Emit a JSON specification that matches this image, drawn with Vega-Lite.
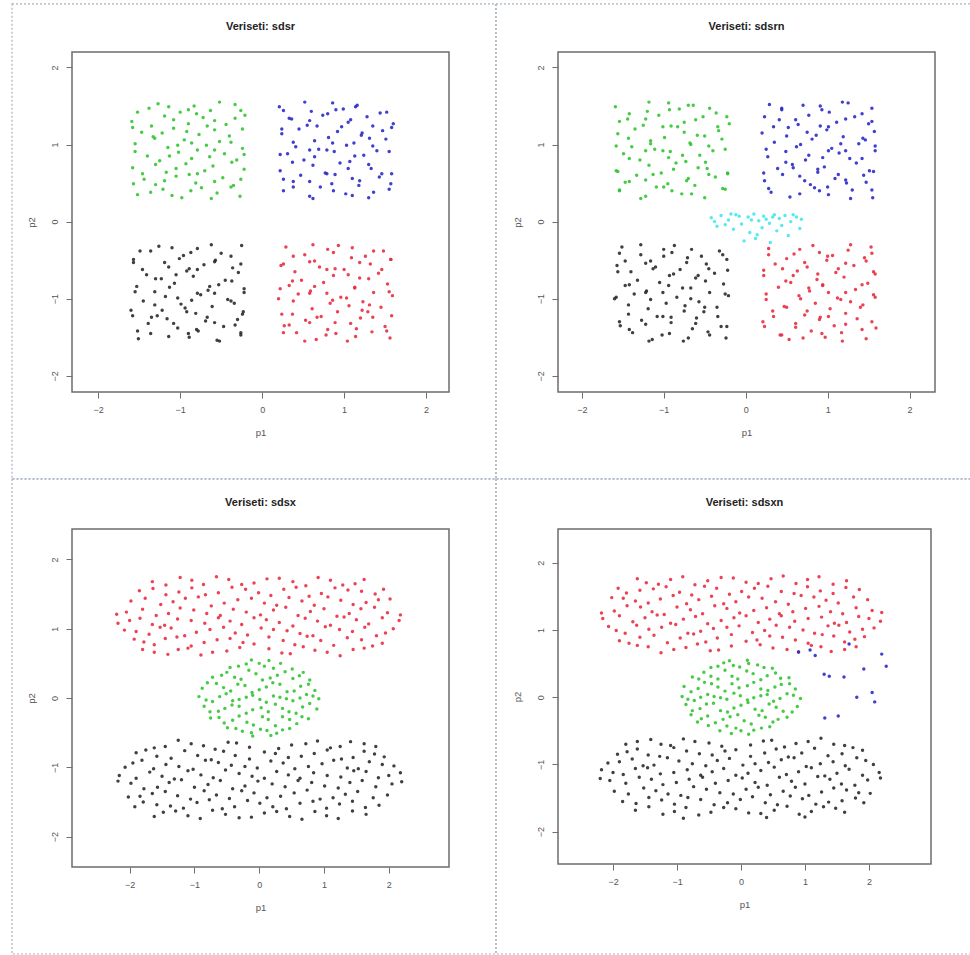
{
  "$schema": "https://vega.github.io/schema/vega-lite/v6.json",
  "background": "white",
  "padding": {"left": 10, "top": 2, "right": 0, "bottom": 0},
  "columns": 2,
  "bounds": "flush",
  "spacing": {"row": 137, "column": 109},
  "config": {
    "view": {"stroke": "#6c6c6c", "strokeWidth": 1.5},
    "font": "Liberation Sans",
    "title": {"font": "Liberation Sans", "fontSize": 11, "fontWeight": "bold", "color": "#222222", "anchor": "middle", "frame": "group", "baseline": "alphabetic"},
    "axis": {"domain": false, "grid": false, "tickColor": "#707070", "tickSize": 6, "tickWidth": 1, "labelColor": "#555555", "labelFont": "Liberation Sans", "labelFontSize": 9, "labelFlush": false, "titleFont": "Liberation Sans", "titleFontSize": 9.5, "titleFontWeight": "normal", "titleColor": "#555555"},
    "axisX": {"labelPadding": 7, "titlePadding": 13},
    "axisY": {"labelAngle": -90, "labelAlign": "center", "labelBaseline": "bottom", "labelPadding": 7, "titlePadding": 14},
    "circle": {"size": 12, "opacity": 0.88}
  },
  "datasets": {
    "sdsr": [
      {"k":3,"x":-1.52,"y":0.35},{"k":3,"x":-1.21,"y":0.42},{"k":3,"x":-0.98,"y":0.31},{"k":3,"x":-0.74,"y":0.44},{"k":3,"x":-0.55,"y":0.37},{"k":3,"x":-0.27,"y":0.33},
      {"k":3,"x":-1.44,"y":0.55},{"k":3,"x":-1.30,"y":0.48},{"k":3,"x":-1.05,"y":0.59},{"k":3,"x":-0.81,"y":0.50},{"k":3,"x":-0.48,"y":0.57},{"k":3,"x":-0.35,"y":0.47},
      {"k":3,"x":-1.58,"y":0.70},{"k":3,"x":-1.17,"y":0.64},{"k":3,"x":-0.93,"y":0.75},{"k":3,"x":-0.70,"y":0.66},{"k":3,"x":-0.60,"y":0.72},{"k":3,"x":-0.22,"y":0.68},
      {"k":3,"x":-1.40,"y":0.85},{"k":3,"x":-1.25,"y":0.79},{"k":3,"x":-1.02,"y":0.90},{"k":3,"x":-0.86,"y":0.82},{"k":3,"x":-0.46,"y":0.88},{"k":3,"x":-0.31,"y":0.80},
      {"k":3,"x":-1.55,"y":1.01},{"k":3,"x":-1.15,"y":0.96},{"k":3,"x":-0.95,"y":1.06},{"k":3,"x":-0.68,"y":0.99},{"k":3,"x":-0.52,"y":1.04},{"k":3,"x":-0.24,"y":0.95},
      {"k":3,"x":-1.47,"y":1.16},{"k":3,"x":-1.33,"y":1.10},{"k":3,"x":-1.08,"y":1.21},{"k":3,"x":-0.77,"y":1.13},{"k":3,"x":-0.58,"y":1.19},{"k":3,"x":-0.40,"y":1.11},
      {"k":3,"x":-1.59,"y":1.30},{"k":3,"x":-1.19,"y":1.37},{"k":3,"x":-0.90,"y":1.27},{"k":3,"x":-0.72,"y":1.35},{"k":3,"x":-0.44,"y":1.26},{"k":3,"x":-0.21,"y":1.38},
      {"k":3,"x":-1.38,"y":1.47},{"k":3,"x":-1.27,"y":1.53},{"k":3,"x":-1.00,"y":1.42},{"k":3,"x":-0.83,"y":1.50},{"k":3,"x":-0.63,"y":1.44},{"k":3,"x":-0.33,"y":1.52},
      {"k":3,"x":-1.36,"y":0.38},{"k":3,"x":-1.10,"y":0.34},{"k":3,"x":-0.87,"y":0.40},{"k":3,"x":-0.62,"y":0.30},{"k":3,"x":-0.38,"y":0.45},{"k":3,"x":-1.57,"y":0.49},{"k":3,"x":-1.19,"y":0.53},{"k":3,"x":-0.89,"y":0.61},{"k":3,"x":-0.58,"y":0.52},{"k":3,"x":-0.26,"y":0.55},
      {"k":3,"x":-1.46,"y":0.62},{"k":3,"x":-1.30,"y":0.74},{"k":3,"x":-1.05,"y":0.69},{"k":3,"x":-0.79,"y":0.62},{"k":3,"x":-0.37,"y":0.77},{"k":3,"x":-1.55,"y":0.91},{"k":3,"x":-1.13,"y":0.85},{"k":3,"x":-0.79,"y":0.93},{"k":3,"x":-0.64,"y":0.84},{"k":3,"x":-0.22,"y":0.87},
      {"k":3,"x":-1.31,"y":1.08},{"k":3,"x":-1.03,"y":0.99},{"k":3,"x":-0.86,"y":1.02},{"k":3,"x":-0.58,"y":0.93},{"k":3,"x":-0.38,"y":1.03},{"k":3,"x":-1.58,"y":1.22},{"k":3,"x":-1.22,"y":1.15},{"k":3,"x":-0.92,"y":1.17},{"k":3,"x":-0.67,"y":1.24},{"k":3,"x":-0.24,"y":1.20},
      {"k":3,"x":-1.35,"y":1.24},{"k":3,"x":-1.08,"y":1.32},{"k":3,"x":-0.80,"y":1.40},{"k":3,"x":-0.58,"y":1.31},{"k":3,"x":-0.33,"y":1.34},{"k":3,"x":-1.52,"y":1.42},{"k":3,"x":-1.14,"y":1.49},{"k":3,"x":-0.90,"y":1.45},{"k":3,"x":-0.52,"y":1.55},{"k":3,"x":-0.26,"y":1.44},
      {"k":4,"x":0.26,"y":0.40},{"k":4,"x":0.58,"y":0.33},{"k":4,"x":0.71,"y":0.45},{"k":4,"x":1.02,"y":0.36},{"k":4,"x":1.30,"y":0.31},{"k":4,"x":1.55,"y":0.42},
      {"k":4,"x":0.38,"y":0.52},{"k":4,"x":0.47,"y":0.60},{"k":4,"x":0.85,"y":0.49},{"k":4,"x":1.10,"y":0.56},{"k":4,"x":1.18,"y":0.47},{"k":4,"x":1.43,"y":0.58},
      {"k":4,"x":0.22,"y":0.66},{"k":4,"x":0.62,"y":0.73},{"k":4,"x":0.77,"y":0.63},{"k":4,"x":0.95,"y":0.76},{"k":4,"x":1.33,"y":0.69},{"k":4,"x":1.58,"y":0.62},
      {"k":4,"x":0.31,"y":0.88},{"k":4,"x":0.51,"y":0.80},{"k":4,"x":0.88,"y":0.91},{"k":4,"x":1.07,"y":0.78},{"k":4,"x":1.24,"y":0.86},{"k":4,"x":1.40,"y":0.92},
      {"k":4,"x":0.41,"y":0.97},{"k":4,"x":0.64,"y":1.05},{"k":4,"x":0.69,"y":0.94},{"k":4,"x":1.12,"y":1.02},{"k":4,"x":1.35,"y":0.98},{"k":4,"x":1.51,"y":1.07},
      {"k":4,"x":0.24,"y":1.14},{"k":4,"x":0.45,"y":1.20},{"k":4,"x":0.81,"y":1.09},{"k":4,"x":0.97,"y":1.23},{"k":4,"x":1.21,"y":1.12},{"k":4,"x":1.47,"y":1.18},
      {"k":4,"x":0.36,"y":1.33},{"k":4,"x":0.55,"y":1.25},{"k":4,"x":0.74,"y":1.38},{"k":4,"x":1.05,"y":1.29},{"k":4,"x":1.28,"y":1.36},{"k":4,"x":1.60,"y":1.27},
      {"k":4,"x":0.21,"y":1.49},{"k":4,"x":0.60,"y":1.43},{"k":4,"x":0.86,"y":1.54},{"k":4,"x":0.99,"y":1.46},{"k":4,"x":1.16,"y":1.51},{"k":4,"x":1.44,"y":1.41},
      {"k":4,"x":1.36,"y":0.38},{"k":4,"x":1.10,"y":0.34},{"k":4,"x":0.87,"y":0.40},{"k":4,"x":0.62,"y":0.30},{"k":4,"x":0.38,"y":0.45},{"k":4,"x":1.57,"y":0.49},{"k":4,"x":1.19,"y":0.53},{"k":4,"x":0.89,"y":0.61},{"k":4,"x":0.58,"y":0.52},{"k":4,"x":0.26,"y":0.55},
      {"k":4,"x":1.46,"y":0.62},{"k":4,"x":1.30,"y":0.74},{"k":4,"x":1.05,"y":0.69},{"k":4,"x":0.79,"y":0.62},{"k":4,"x":0.37,"y":0.77},{"k":4,"x":1.55,"y":0.91},{"k":4,"x":1.13,"y":0.85},{"k":4,"x":0.79,"y":0.93},{"k":4,"x":0.64,"y":0.84},{"k":4,"x":0.22,"y":0.87},
      {"k":4,"x":1.31,"y":1.08},{"k":4,"x":1.03,"y":0.99},{"k":4,"x":0.86,"y":1.02},{"k":4,"x":0.58,"y":0.93},{"k":4,"x":0.38,"y":1.03},{"k":4,"x":1.58,"y":1.22},{"k":4,"x":1.22,"y":1.15},{"k":4,"x":0.92,"y":1.17},{"k":4,"x":0.67,"y":1.24},{"k":4,"x":0.24,"y":1.20},
      {"k":4,"x":1.35,"y":1.24},{"k":4,"x":1.08,"y":1.32},{"k":4,"x":0.80,"y":1.40},{"k":4,"x":0.58,"y":1.31},{"k":4,"x":0.33,"y":1.34},{"k":4,"x":1.52,"y":1.42},{"k":4,"x":1.14,"y":1.49},{"k":4,"x":0.90,"y":1.45},{"k":4,"x":0.52,"y":1.55},{"k":4,"x":0.26,"y":1.44},
      {"k":1,"x":-1.49,"y":-0.38},{"k":1,"x":-1.26,"y":-0.32},{"k":1,"x":-0.96,"y":-0.44},{"k":1,"x":-0.79,"y":-0.35},{"k":1,"x":-0.50,"y":-0.41},{"k":1,"x":-0.25,"y":-0.31},
      {"k":1,"x":-1.57,"y":-0.53},{"k":1,"x":-1.14,"y":-0.59},{"k":1,"x":-1.01,"y":-0.48},{"k":1,"x":-0.71,"y":-0.56},{"k":1,"x":-0.57,"y":-0.50},{"k":1,"x":-0.36,"y":-0.60},
      {"k":1,"x":-1.41,"y":-0.69},{"k":1,"x":-1.23,"y":-0.74},{"k":1,"x":-0.92,"y":-0.64},{"k":1,"x":-0.84,"y":-0.71},{"k":1,"x":-0.45,"y":-0.76},{"k":1,"x":-0.29,"y":-0.66},
      {"k":1,"x":-1.53,"y":-0.84},{"k":1,"x":-1.31,"y":-0.91},{"k":1,"x":-1.07,"y":-0.80},{"k":1,"x":-0.66,"y":-0.89},{"k":1,"x":-0.53,"y":-0.82},{"k":1,"x":-0.22,"y":-0.92},
      {"k":1,"x":-1.45,"y":-1.03},{"k":1,"x":-1.18,"y":-0.97},{"k":1,"x":-0.99,"y":-1.07},{"k":1,"x":-0.75,"y":-0.95},{"k":1,"x":-0.42,"y":-1.01},{"k":1,"x":-0.34,"y":-1.06},
      {"k":1,"x":-1.60,"y":-1.15},{"k":1,"x":-1.28,"y":-1.22},{"k":1,"x":-0.94,"y":-1.12},{"k":1,"x":-0.81,"y":-1.19},{"k":1,"x":-0.61,"y":-1.10},{"k":1,"x":-0.23,"y":-1.17},
      {"k":1,"x":-1.39,"y":-1.32},{"k":1,"x":-1.16,"y":-1.26},{"k":1,"x":-1.03,"y":-1.38},{"k":1,"x":-0.69,"y":-1.29},{"k":1,"x":-0.47,"y":-1.36},{"k":1,"x":-0.30,"y":-1.27},
      {"k":1,"x":-1.51,"y":-1.52},{"k":1,"x":-1.36,"y":-1.45},{"k":1,"x":-0.89,"y":-1.50},{"k":1,"x":-0.78,"y":-1.42},{"k":1,"x":-0.55,"y":-1.54},{"k":1,"x":-0.26,"y":-1.47},
      {"k":1,"x":-1.36,"y":-0.38},{"k":1,"x":-1.10,"y":-0.34},{"k":1,"x":-0.87,"y":-0.40},{"k":1,"x":-0.62,"y":-0.30},{"k":1,"x":-0.38,"y":-0.45},{"k":1,"x":-1.57,"y":-0.49},{"k":1,"x":-1.19,"y":-0.53},{"k":1,"x":-0.89,"y":-0.61},{"k":1,"x":-0.58,"y":-0.52},{"k":1,"x":-0.26,"y":-0.55},
      {"k":1,"x":-1.46,"y":-0.62},{"k":1,"x":-1.30,"y":-0.74},{"k":1,"x":-1.05,"y":-0.69},{"k":1,"x":-0.79,"y":-0.62},{"k":1,"x":-0.37,"y":-0.77},{"k":1,"x":-1.55,"y":-0.91},{"k":1,"x":-1.13,"y":-0.85},{"k":1,"x":-0.79,"y":-0.93},{"k":1,"x":-0.64,"y":-0.84},{"k":1,"x":-0.22,"y":-0.87},
      {"k":1,"x":-1.31,"y":-1.08},{"k":1,"x":-1.03,"y":-0.99},{"k":1,"x":-0.86,"y":-1.02},{"k":1,"x":-0.58,"y":-0.93},{"k":1,"x":-0.38,"y":-1.03},{"k":1,"x":-1.58,"y":-1.22},{"k":1,"x":-1.22,"y":-1.15},{"k":1,"x":-0.92,"y":-1.17},{"k":1,"x":-0.67,"y":-1.24},{"k":1,"x":-0.24,"y":-1.20},
      {"k":1,"x":-1.35,"y":-1.24},{"k":1,"x":-1.08,"y":-1.32},{"k":1,"x":-0.80,"y":-1.40},{"k":1,"x":-0.58,"y":-1.31},{"k":1,"x":-0.33,"y":-1.34},{"k":1,"x":-1.52,"y":-1.42},{"k":1,"x":-1.14,"y":-1.49},{"k":1,"x":-0.90,"y":-1.45},{"k":1,"x":-0.52,"y":-1.55},{"k":1,"x":-0.26,"y":-1.44},
      {"k":2,"x":0.29,"y":-0.33},{"k":2,"x":0.52,"y":-0.43},{"k":2,"x":0.80,"y":-0.36},{"k":2,"x":0.93,"y":-0.31},{"k":2,"x":1.26,"y":-0.45},{"k":2,"x":1.48,"y":-0.38},
      {"k":2,"x":0.23,"y":-0.57},{"k":2,"x":0.64,"y":-0.51},{"k":2,"x":0.70,"y":-0.59},{"k":2,"x":1.09,"y":-0.47},{"k":2,"x":1.32,"y":-0.55},{"k":2,"x":1.57,"y":-0.49},
      {"k":2,"x":0.40,"y":-0.65},{"k":2,"x":0.48,"y":-0.76},{"k":2,"x":0.87,"y":-0.70},{"k":2,"x":1.00,"y":-0.62},{"k":2,"x":1.19,"y":-0.73},{"k":2,"x":1.42,"y":-0.67},
      {"k":2,"x":0.33,"y":-0.83},{"k":2,"x":0.59,"y":-0.90},{"k":2,"x":0.75,"y":-0.79},{"k":2,"x":1.13,"y":-0.86},{"k":2,"x":1.36,"y":-0.92},{"k":2,"x":1.53,"y":-0.81},
      {"k":2,"x":0.20,"y":-1.00},{"k":2,"x":0.44,"y":-0.94},{"k":2,"x":0.83,"y":-1.06},{"k":2,"x":0.96,"y":-0.98},{"k":2,"x":1.23,"y":-1.04},{"k":2,"x":1.59,"y":-0.96},
      {"k":2,"x":0.37,"y":-1.20},{"k":2,"x":0.61,"y":-1.13},{"k":2,"x":0.72,"y":-1.23},{"k":2,"x":1.06,"y":-1.09},{"k":2,"x":1.29,"y":-1.17},{"k":2,"x":1.45,"y":-1.11},
      {"k":2,"x":0.27,"y":-1.35},{"k":2,"x":0.53,"y":-1.28},{"k":2,"x":0.89,"y":-1.31},{"k":2,"x":1.15,"y":-1.39},{"k":2,"x":1.20,"y":-1.25},{"k":2,"x":1.50,"y":-1.36},
      {"k":2,"x":0.42,"y":-1.44},{"k":2,"x":0.66,"y":-1.53},{"k":2,"x":0.78,"y":-1.47},{"k":2,"x":1.04,"y":-1.55},{"k":2,"x":1.34,"y":-1.43},{"k":2,"x":1.56,"y":-1.51},
      {"k":2,"x":1.36,"y":-0.38},{"k":2,"x":1.10,"y":-0.34},{"k":2,"x":0.87,"y":-0.40},{"k":2,"x":0.62,"y":-0.30},{"k":2,"x":0.38,"y":-0.45},{"k":2,"x":1.57,"y":-0.49},{"k":2,"x":1.19,"y":-0.53},{"k":2,"x":0.89,"y":-0.61},{"k":2,"x":0.58,"y":-0.52},{"k":2,"x":0.26,"y":-0.55},
      {"k":2,"x":1.46,"y":-0.62},{"k":2,"x":1.30,"y":-0.74},{"k":2,"x":1.05,"y":-0.69},{"k":2,"x":0.79,"y":-0.62},{"k":2,"x":0.37,"y":-0.77},{"k":2,"x":1.55,"y":-0.91},{"k":2,"x":1.13,"y":-0.85},{"k":2,"x":0.79,"y":-0.93},{"k":2,"x":0.64,"y":-0.84},{"k":2,"x":0.22,"y":-0.87},
      {"k":2,"x":1.31,"y":-1.08},{"k":2,"x":1.03,"y":-0.99},{"k":2,"x":0.86,"y":-1.02},{"k":2,"x":0.58,"y":-0.93},{"k":2,"x":0.38,"y":-1.03},{"k":2,"x":1.58,"y":-1.22},{"k":2,"x":1.22,"y":-1.15},{"k":2,"x":0.92,"y":-1.17},{"k":2,"x":0.67,"y":-1.24},{"k":2,"x":0.24,"y":-1.20},
      {"k":2,"x":1.35,"y":-1.24},{"k":2,"x":1.08,"y":-1.32},{"k":2,"x":0.80,"y":-1.40},{"k":2,"x":0.58,"y":-1.31},{"k":2,"x":0.33,"y":-1.34},{"k":2,"x":1.52,"y":-1.42},{"k":2,"x":1.14,"y":-1.49},{"k":2,"x":0.90,"y":-1.45},{"k":2,"x":0.52,"y":-1.55},{"k":2,"x":0.26,"y":-1.44}
    ],
    "sdsrn": [
      {"k":3,"x":-1.54,"y":0.40},{"k":3,"x":-1.22,"y":0.33},{"k":3,"x":-1.09,"y":0.45},{"k":3,"x":-0.78,"y":0.36},{"k":3,"x":-0.50,"y":0.31},{"k":3,"x":-0.25,"y":0.42},
      {"k":3,"x":-1.42,"y":0.52},{"k":3,"x":-1.33,"y":0.60},{"k":3,"x":-0.95,"y":0.49},{"k":3,"x":-0.70,"y":0.56},{"k":3,"x":-0.62,"y":0.47},{"k":3,"x":-0.37,"y":0.58},
      {"k":3,"x":-1.58,"y":0.66},{"k":3,"x":-1.18,"y":0.73},{"k":3,"x":-1.03,"y":0.63},{"k":3,"x":-0.85,"y":0.76},{"k":3,"x":-0.47,"y":0.69},{"k":3,"x":-0.22,"y":0.62},
      {"k":3,"x":-1.49,"y":0.88},{"k":3,"x":-1.29,"y":0.80},{"k":3,"x":-0.92,"y":0.91},{"k":3,"x":-0.73,"y":0.78},{"k":3,"x":-0.56,"y":0.86},{"k":3,"x":-0.40,"y":0.92},
      {"k":3,"x":-1.39,"y":0.97},{"k":3,"x":-1.16,"y":1.05},{"k":3,"x":-1.11,"y":0.94},{"k":3,"x":-0.68,"y":1.02},{"k":3,"x":-0.45,"y":0.98},{"k":3,"x":-0.29,"y":1.07},
      {"k":3,"x":-1.56,"y":1.14},{"k":3,"x":-1.35,"y":1.20},{"k":3,"x":-0.99,"y":1.09},{"k":3,"x":-0.83,"y":1.23},{"k":3,"x":-0.59,"y":1.12},{"k":3,"x":-0.33,"y":1.18},
      {"k":3,"x":-1.44,"y":1.33},{"k":3,"x":-1.25,"y":1.25},{"k":3,"x":-1.06,"y":1.38},{"k":3,"x":-0.75,"y":1.29},{"k":3,"x":-0.52,"y":1.36},{"k":3,"x":-0.20,"y":1.27},
      {"k":3,"x":-1.59,"y":1.49},{"k":3,"x":-1.20,"y":1.43},{"k":3,"x":-0.94,"y":1.54},{"k":3,"x":-0.81,"y":1.46},{"k":3,"x":-0.64,"y":1.51},{"k":3,"x":-0.36,"y":1.41},
      {"k":3,"x":-0.44,"y":1.47},{"k":3,"x":-0.70,"y":1.51},{"k":3,"x":-0.93,"y":1.45},{"k":3,"x":-1.18,"y":1.55},{"k":3,"x":-1.42,"y":1.40},{"k":3,"x":-0.23,"y":1.36},{"k":3,"x":-0.61,"y":1.32},{"k":3,"x":-0.91,"y":1.24},{"k":3,"x":-1.22,"y":1.33},{"k":3,"x":-1.54,"y":1.30},
      {"k":3,"x":-0.34,"y":1.23},{"k":3,"x":-0.50,"y":1.11},{"k":3,"x":-0.75,"y":1.16},{"k":3,"x":-1.01,"y":1.23},{"k":3,"x":-1.43,"y":1.08},{"k":3,"x":-0.25,"y":0.94},{"k":3,"x":-0.67,"y":1.00},{"k":3,"x":-1.01,"y":0.92},{"k":3,"x":-1.16,"y":1.01},{"k":3,"x":-1.58,"y":0.98},
      {"k":3,"x":-0.49,"y":0.77},{"k":3,"x":-0.77,"y":0.86},{"k":3,"x":-0.94,"y":0.83},{"k":3,"x":-1.22,"y":0.92},{"k":3,"x":-1.42,"y":0.82},{"k":3,"x":-0.22,"y":0.63},{"k":3,"x":-0.58,"y":0.70},{"k":3,"x":-0.88,"y":0.68},{"k":3,"x":-1.13,"y":0.61},{"k":3,"x":-1.56,"y":0.65},
      {"k":3,"x":-0.45,"y":0.61},{"k":3,"x":-0.72,"y":0.53},{"k":3,"x":-1.00,"y":0.45},{"k":3,"x":-1.22,"y":0.54},{"k":3,"x":-1.47,"y":0.51},{"k":3,"x":-0.28,"y":0.43},{"k":3,"x":-0.66,"y":0.36},{"k":3,"x":-0.90,"y":0.40},{"k":3,"x":-1.28,"y":0.30},{"k":3,"x":-1.54,"y":0.41},
      {"k":4,"x":0.31,"y":0.38},{"k":4,"x":0.54,"y":0.32},{"k":4,"x":0.84,"y":0.44},{"k":4,"x":1.01,"y":0.35},{"k":4,"x":1.30,"y":0.41},{"k":4,"x":1.55,"y":0.31},
      {"k":4,"x":0.23,"y":0.53},{"k":4,"x":0.66,"y":0.59},{"k":4,"x":0.79,"y":0.48},{"k":4,"x":1.09,"y":0.56},{"k":4,"x":1.23,"y":0.50},{"k":4,"x":1.44,"y":0.60},
      {"k":4,"x":0.39,"y":0.69},{"k":4,"x":0.57,"y":0.74},{"k":4,"x":0.88,"y":0.64},{"k":4,"x":0.96,"y":0.71},{"k":4,"x":1.35,"y":0.76},{"k":4,"x":1.51,"y":0.66},
      {"k":4,"x":0.27,"y":0.84},{"k":4,"x":0.49,"y":0.91},{"k":4,"x":0.73,"y":0.80},{"k":4,"x":1.14,"y":0.89},{"k":4,"x":1.27,"y":0.82},{"k":4,"x":1.58,"y":0.92},
      {"k":4,"x":0.35,"y":1.03},{"k":4,"x":0.62,"y":0.97},{"k":4,"x":0.81,"y":1.07},{"k":4,"x":1.05,"y":0.95},{"k":4,"x":1.38,"y":1.01},{"k":4,"x":1.46,"y":1.06},
      {"k":4,"x":0.20,"y":1.15},{"k":4,"x":0.52,"y":1.22},{"k":4,"x":0.86,"y":1.12},{"k":4,"x":0.99,"y":1.19},{"k":4,"x":1.19,"y":1.10},{"k":4,"x":1.57,"y":1.17},
      {"k":4,"x":0.41,"y":1.32},{"k":4,"x":0.64,"y":1.26},{"k":4,"x":0.77,"y":1.38},{"k":4,"x":1.11,"y":1.29},{"k":4,"x":1.33,"y":1.36},{"k":4,"x":1.50,"y":1.27},
      {"k":4,"x":0.29,"y":1.52},{"k":4,"x":0.44,"y":1.45},{"k":4,"x":0.91,"y":1.50},{"k":4,"x":1.02,"y":1.42},{"k":4,"x":1.25,"y":1.54},{"k":4,"x":1.54,"y":1.47},
      {"k":4,"x":0.44,"y":1.47},{"k":4,"x":0.70,"y":1.51},{"k":4,"x":0.93,"y":1.45},{"k":4,"x":1.18,"y":1.55},{"k":4,"x":1.42,"y":1.40},{"k":4,"x":0.23,"y":1.36},{"k":4,"x":0.61,"y":1.32},{"k":4,"x":0.91,"y":1.24},{"k":4,"x":1.22,"y":1.33},{"k":4,"x":1.54,"y":1.30},
      {"k":4,"x":0.34,"y":1.23},{"k":4,"x":0.50,"y":1.11},{"k":4,"x":0.75,"y":1.16},{"k":4,"x":1.01,"y":1.23},{"k":4,"x":1.43,"y":1.08},{"k":4,"x":0.25,"y":0.94},{"k":4,"x":0.67,"y":1.00},{"k":4,"x":1.01,"y":0.92},{"k":4,"x":1.16,"y":1.01},{"k":4,"x":1.58,"y":0.98},
      {"k":4,"x":0.49,"y":0.77},{"k":4,"x":0.77,"y":0.86},{"k":4,"x":0.94,"y":0.83},{"k":4,"x":1.22,"y":0.92},{"k":4,"x":1.42,"y":0.82},{"k":4,"x":0.22,"y":0.63},{"k":4,"x":0.58,"y":0.70},{"k":4,"x":0.88,"y":0.68},{"k":4,"x":1.13,"y":0.61},{"k":4,"x":1.56,"y":0.65},
      {"k":4,"x":0.45,"y":0.61},{"k":4,"x":0.72,"y":0.53},{"k":4,"x":1.00,"y":0.45},{"k":4,"x":1.22,"y":0.54},{"k":4,"x":1.47,"y":0.51},{"k":4,"x":0.28,"y":0.43},{"k":4,"x":0.66,"y":0.36},{"k":4,"x":0.90,"y":0.40},{"k":4,"x":1.28,"y":0.30},{"k":4,"x":1.54,"y":0.41},
      {"k":1,"x":-1.51,"y":-0.33},{"k":1,"x":-1.28,"y":-0.43},{"k":1,"x":-1.00,"y":-0.36},{"k":1,"x":-0.87,"y":-0.31},{"k":1,"x":-0.54,"y":-0.45},{"k":1,"x":-0.32,"y":-0.38},
      {"k":1,"x":-1.57,"y":-0.57},{"k":1,"x":-1.16,"y":-0.51},{"k":1,"x":-1.10,"y":-0.59},{"k":1,"x":-0.71,"y":-0.47},{"k":1,"x":-0.48,"y":-0.55},{"k":1,"x":-0.23,"y":-0.49},
      {"k":1,"x":-1.40,"y":-0.65},{"k":1,"x":-1.32,"y":-0.76},{"k":1,"x":-0.93,"y":-0.70},{"k":1,"x":-0.80,"y":-0.62},{"k":1,"x":-0.61,"y":-0.73},{"k":1,"x":-0.38,"y":-0.67},
      {"k":1,"x":-1.47,"y":-0.83},{"k":1,"x":-1.21,"y":-0.90},{"k":1,"x":-1.05,"y":-0.79},{"k":1,"x":-0.67,"y":-0.86},{"k":1,"x":-0.44,"y":-0.92},{"k":1,"x":-0.27,"y":-0.81},
      {"k":1,"x":-1.60,"y":-1.00},{"k":1,"x":-1.36,"y":-0.94},{"k":1,"x":-0.97,"y":-1.06},{"k":1,"x":-0.84,"y":-0.98},{"k":1,"x":-0.57,"y":-1.04},{"k":1,"x":-0.21,"y":-0.96},
      {"k":1,"x":-1.43,"y":-1.20},{"k":1,"x":-1.19,"y":-1.13},{"k":1,"x":-1.08,"y":-1.23},{"k":1,"x":-0.74,"y":-1.09},{"k":1,"x":-0.51,"y":-1.17},{"k":1,"x":-0.35,"y":-1.11},
      {"k":1,"x":-1.53,"y":-1.35},{"k":1,"x":-1.27,"y":-1.28},{"k":1,"x":-0.91,"y":-1.31},{"k":1,"x":-0.65,"y":-1.39},{"k":1,"x":-0.60,"y":-1.25},{"k":1,"x":-0.30,"y":-1.36},
      {"k":1,"x":-1.38,"y":-1.44},{"k":1,"x":-1.14,"y":-1.53},{"k":1,"x":-1.02,"y":-1.47},{"k":1,"x":-0.76,"y":-1.55},{"k":1,"x":-0.46,"y":-1.43},{"k":1,"x":-0.24,"y":-1.51},
      {"k":1,"x":-0.44,"y":-1.47},{"k":1,"x":-0.70,"y":-1.51},{"k":1,"x":-0.93,"y":-1.45},{"k":1,"x":-1.18,"y":-1.55},{"k":1,"x":-1.42,"y":-1.40},{"k":1,"x":-0.23,"y":-1.36},{"k":1,"x":-0.61,"y":-1.32},{"k":1,"x":-0.91,"y":-1.24},{"k":1,"x":-1.22,"y":-1.33},{"k":1,"x":-1.54,"y":-1.30},
      {"k":1,"x":-0.34,"y":-1.23},{"k":1,"x":-0.50,"y":-1.11},{"k":1,"x":-0.75,"y":-1.16},{"k":1,"x":-1.01,"y":-1.23},{"k":1,"x":-1.43,"y":-1.08},{"k":1,"x":-0.25,"y":-0.94},{"k":1,"x":-0.67,"y":-1.00},{"k":1,"x":-1.01,"y":-0.92},{"k":1,"x":-1.16,"y":-1.01},{"k":1,"x":-1.58,"y":-0.98},
      {"k":1,"x":-0.49,"y":-0.77},{"k":1,"x":-0.77,"y":-0.86},{"k":1,"x":-0.94,"y":-0.83},{"k":1,"x":-1.22,"y":-0.92},{"k":1,"x":-1.42,"y":-0.82},{"k":1,"x":-0.22,"y":-0.63},{"k":1,"x":-0.58,"y":-0.70},{"k":1,"x":-0.88,"y":-0.68},{"k":1,"x":-1.13,"y":-0.61},{"k":1,"x":-1.56,"y":-0.65},
      {"k":1,"x":-0.45,"y":-0.61},{"k":1,"x":-0.72,"y":-0.53},{"k":1,"x":-1.00,"y":-0.45},{"k":1,"x":-1.22,"y":-0.54},{"k":1,"x":-1.47,"y":-0.51},{"k":1,"x":-0.28,"y":-0.43},{"k":1,"x":-0.66,"y":-0.36},{"k":1,"x":-0.90,"y":-0.40},{"k":1,"x":-1.28,"y":-0.30},{"k":1,"x":-1.54,"y":-0.41},
      {"k":2,"x":0.28,"y":-0.35},{"k":2,"x":0.59,"y":-0.42},{"k":2,"x":0.82,"y":-0.31},{"k":2,"x":1.06,"y":-0.44},{"k":2,"x":1.25,"y":-0.37},{"k":2,"x":1.53,"y":-0.33},
      {"k":2,"x":0.36,"y":-0.55},{"k":2,"x":0.50,"y":-0.48},{"k":2,"x":0.75,"y":-0.59},{"k":2,"x":0.99,"y":-0.50},{"k":2,"x":1.32,"y":-0.57},{"k":2,"x":1.45,"y":-0.47},
      {"k":2,"x":0.22,"y":-0.70},{"k":2,"x":0.63,"y":-0.64},{"k":2,"x":0.87,"y":-0.75},{"k":2,"x":1.10,"y":-0.66},{"k":2,"x":1.20,"y":-0.72},{"k":2,"x":1.58,"y":-0.68},
      {"k":2,"x":0.40,"y":-0.85},{"k":2,"x":0.55,"y":-0.79},{"k":2,"x":0.78,"y":-0.90},{"k":2,"x":0.94,"y":-0.82},{"k":2,"x":1.34,"y":-0.88},{"k":2,"x":1.49,"y":-0.80},
      {"k":2,"x":0.25,"y":-1.01},{"k":2,"x":0.65,"y":-0.96},{"k":2,"x":0.85,"y":-1.06},{"k":2,"x":1.12,"y":-0.99},{"k":2,"x":1.28,"y":-1.04},{"k":2,"x":1.56,"y":-0.95},
      {"k":2,"x":0.33,"y":-1.16},{"k":2,"x":0.47,"y":-1.10},{"k":2,"x":0.72,"y":-1.21},{"k":2,"x":1.03,"y":-1.13},{"k":2,"x":1.22,"y":-1.19},{"k":2,"x":1.40,"y":-1.11},
      {"k":2,"x":0.21,"y":-1.30},{"k":2,"x":0.61,"y":-1.37},{"k":2,"x":0.90,"y":-1.27},{"k":2,"x":1.08,"y":-1.35},{"k":2,"x":1.36,"y":-1.26},{"k":2,"x":1.59,"y":-1.38},
      {"k":2,"x":0.42,"y":-1.47},{"k":2,"x":0.53,"y":-1.53},{"k":2,"x":0.80,"y":-1.42},{"k":2,"x":0.97,"y":-1.50},{"k":2,"x":1.17,"y":-1.44},{"k":2,"x":1.47,"y":-1.52},
      {"k":2,"x":0.44,"y":-1.47},{"k":2,"x":0.70,"y":-1.51},{"k":2,"x":0.93,"y":-1.45},{"k":2,"x":1.18,"y":-1.55},{"k":2,"x":1.42,"y":-1.40},{"k":2,"x":0.23,"y":-1.36},{"k":2,"x":0.61,"y":-1.32},{"k":2,"x":0.91,"y":-1.24},{"k":2,"x":1.22,"y":-1.33},{"k":2,"x":1.54,"y":-1.30},
      {"k":2,"x":0.34,"y":-1.23},{"k":2,"x":0.50,"y":-1.11},{"k":2,"x":0.75,"y":-1.16},{"k":2,"x":1.01,"y":-1.23},{"k":2,"x":1.43,"y":-1.08},{"k":2,"x":0.25,"y":-0.94},{"k":2,"x":0.67,"y":-1.00},{"k":2,"x":1.01,"y":-0.92},{"k":2,"x":1.16,"y":-1.01},{"k":2,"x":1.58,"y":-0.98},
      {"k":2,"x":0.49,"y":-0.77},{"k":2,"x":0.77,"y":-0.86},{"k":2,"x":0.94,"y":-0.83},{"k":2,"x":1.22,"y":-0.92},{"k":2,"x":1.42,"y":-0.82},{"k":2,"x":0.22,"y":-0.63},{"k":2,"x":0.58,"y":-0.70},{"k":2,"x":0.88,"y":-0.68},{"k":2,"x":1.13,"y":-0.61},{"k":2,"x":1.56,"y":-0.65},
      {"k":2,"x":0.45,"y":-0.61},{"k":2,"x":0.72,"y":-0.53},{"k":2,"x":1.00,"y":-0.45},{"k":2,"x":1.22,"y":-0.54},{"k":2,"x":1.47,"y":-0.51},{"k":2,"x":0.28,"y":-0.43},{"k":2,"x":0.66,"y":-0.36},{"k":2,"x":0.90,"y":-0.40},{"k":2,"x":1.28,"y":-0.30},{"k":2,"x":1.54,"y":-0.41},
      {"k":5,"x":-0.42,"y":0.05},{"k":5,"x":-0.30,"y":0.08},{"k":5,"x":-0.21,"y":0.02},{"k":5,"x":-0.12,"y":0.09},{"k":5,"x":-0.05,"y":-0.03},{"k":5,"x":0.03,"y":0.06},
      {"k":5,"x":0.10,"y":0.10},{"k":5,"x":0.16,"y":0.01},{"k":5,"x":0.22,"y":0.07},{"k":5,"x":0.29,"y":-0.02},{"k":5,"x":0.35,"y":0.09},{"k":5,"x":0.41,"y":0.04},
      {"k":5,"x":0.48,"y":0.08},{"k":5,"x":0.55,"y":0.00},{"k":5,"x":0.62,"y":0.06},{"k":5,"x":0.68,"y":0.03},{"k":5,"x":-0.35,"y":-0.06},{"k":5,"x":-0.15,"y":-0.10},
      {"k":5,"x":0.05,"y":-0.14},{"k":5,"x":0.20,"y":-0.08},{"k":5,"x":0.38,"y":-0.12},{"k":5,"x":0.52,"y":-0.18},{"k":5,"x":0.66,"y":-0.09},{"k":5,"x":0.12,"y":-0.22},
      {"k":5,"x":0.30,"y":-0.27},{"k":5,"x":-0.02,"y":-0.25},
      {"k":5,"x":-0.38,"y":0.00},{"k":5,"x":-0.25,"y":-0.04},{"k":5,"x":-0.08,"y":0.07},{"k":5,"x":0.07,"y":0.02},{"k":5,"x":0.25,"y":0.03},{"k":5,"x":0.44,"y":-0.05},
      {"k":5,"x":0.58,"y":0.09},{"k":5,"x":0.33,"y":0.06},{"k":5,"x":-0.18,"y":0.10},{"k":5,"x":0.14,"y":-0.17}
    ],
    "sdsx": [
      {"k":2,"x":-1.80,"y":0.70},{"k":2,"x":-1.41,"y":0.63},{"k":2,"x":-1.10,"y":0.72},{"k":2,"x":-0.72,"y":0.66},{"k":2,"x":-0.30,"y":0.73},{"k":2,"x":0.15,"y":0.71},{"k":2,"x":0.48,"y":0.64},{"k":2,"x":0.86,"y":0.69},{"k":2,"x":1.25,"y":0.61},{"k":2,"x":1.62,"y":0.72},
      {"k":2,"x":-1.93,"y":0.85},{"k":2,"x":-1.62,"y":0.77},{"k":2,"x":-1.27,"y":0.88},{"k":2,"x":-0.85,"y":0.80},{"k":2,"x":-0.45,"y":0.86},{"k":2,"x":-0.08,"y":0.78},{"k":2,"x":0.37,"y":0.83},{"k":2,"x":0.74,"y":0.89},{"k":2,"x":1.15,"y":0.76},{"k":2,"x":1.58,"y":0.84},{"k":2,"x":1.90,"y":0.79},
      {"k":2,"x":-2.08,"y":0.98},{"k":2,"x":-1.70,"y":0.92},{"k":2,"x":-1.36,"y":1.01},{"k":2,"x":-0.97,"y":0.95},{"k":2,"x":-0.55,"y":1.02},{"k":2,"x":-0.18,"y":0.91},{"k":2,"x":0.22,"y":0.99},{"k":2,"x":0.63,"y":0.93},{"k":2,"x":1.02,"y":1.03},{"k":2,"x":1.44,"y":0.96},{"k":2,"x":1.81,"y":0.90},{"k":2,"x":2.07,"y":1.00},
      {"k":2,"x":-2.18,"y":1.08},{"k":2,"x":-1.84,"y":1.15},{"k":2,"x":-1.46,"y":1.05},{"k":2,"x":-1.05,"y":1.12},{"k":2,"x":-0.63,"y":1.16},{"k":2,"x":-0.27,"y":1.06},{"k":2,"x":0.11,"y":1.13},{"k":2,"x":0.52,"y":1.04},{"k":2,"x":0.90,"y":1.11},{"k":2,"x":1.31,"y":1.17},{"k":2,"x":1.69,"y":1.07},{"k":2,"x":2.16,"y":1.12},
      {"k":2,"x":-2.05,"y":1.24},{"k":2,"x":-1.59,"y":1.19},{"k":2,"x":-1.22,"y":1.30},{"k":2,"x":-0.81,"y":1.22},{"k":2,"x":-0.40,"y":1.28},{"k":2,"x":0.02,"y":1.20},{"k":2,"x":0.41,"y":1.31},{"k":2,"x":0.79,"y":1.25},{"k":2,"x":1.20,"y":1.18},{"k":2,"x":1.57,"y":1.29},{"k":2,"x":1.98,"y":1.23},
      {"k":2,"x":-1.98,"y":1.40},{"k":2,"x":-1.52,"y":1.35},{"k":2,"x":-1.14,"y":1.44},{"k":2,"x":-0.74,"y":1.33},{"k":2,"x":-0.33,"y":1.42},{"k":2,"x":0.08,"y":1.37},{"k":2,"x":0.46,"y":1.45},{"k":2,"x":0.85,"y":1.34},{"k":2,"x":1.26,"y":1.41},{"k":2,"x":1.65,"y":1.38},{"k":2,"x":2.02,"y":1.43},
      {"k":2,"x":-1.85,"y":1.55},{"k":2,"x":-1.44,"y":1.49},{"k":2,"x":-1.04,"y":1.59},{"k":2,"x":-0.63,"y":1.52},{"k":2,"x":-0.21,"y":1.57},{"k":2,"x":0.18,"y":1.48},{"k":2,"x":0.57,"y":1.60},{"k":2,"x":0.96,"y":1.51},{"k":2,"x":1.37,"y":1.56},{"k":2,"x":1.79,"y":1.50},
      {"k":2,"x":-1.65,"y":1.68},{"k":2,"x":-1.22,"y":1.74},{"k":2,"x":-0.86,"y":1.64},{"k":2,"x":-0.47,"y":1.71},{"k":2,"x":-0.08,"y":1.66},{"k":2,"x":0.31,"y":1.73},{"k":2,"x":0.72,"y":1.62},{"k":2,"x":1.10,"y":1.70},{"k":2,"x":1.48,"y":1.65},
      {"k":2,"x":-1.62,"y":0.66},{"k":2,"x":-1.25,"y":0.70},{"k":2,"x":-0.90,"y":0.62},{"k":2,"x":-0.50,"y":0.68},{"k":2,"x":0.35,"y":0.65},{"k":2,"x":0.68,"y":0.74},{"k":2,"x":1.05,"y":0.66},{"k":2,"x":1.45,"y":0.70},
      {"k":2,"x":-1.78,"y":0.81},{"k":2,"x":-1.45,"y":0.86},{"k":2,"x":-1.05,"y":0.75},{"k":2,"x":-0.65,"y":0.84},{"k":2,"x":-0.25,"y":0.80},{"k":2,"x":0.15,"y":0.88},{"k":2,"x":0.55,"y":0.77},{"k":2,"x":0.95,"y":0.83},{"k":2,"x":1.36,"y":0.87},{"k":2,"x":1.75,"y":0.75},
      {"k":2,"x":-1.90,"y":0.96},{"k":2,"x":-1.53,"y":1.02},{"k":2,"x":-1.15,"y":0.90},{"k":2,"x":-0.76,"y":0.99},{"k":2,"x":-0.37,"y":0.94},{"k":2,"x":0.03,"y":1.01},{"k":2,"x":0.43,"y":0.97},{"k":2,"x":0.83,"y":0.90},{"k":2,"x":1.24,"y":0.99},{"k":2,"x":1.63,"y":1.02},{"k":2,"x":1.95,"y":0.94},
      {"k":2,"x":-2.00,"y":1.12},{"k":2,"x":-1.65,"y":1.06},{"k":2,"x":-1.26,"y":1.14},{"k":2,"x":-0.84,"y":1.08},{"k":2,"x":-0.45,"y":1.11},{"k":2,"x":-0.08,"y":1.16},{"k":2,"x":0.31,"y":1.09},{"k":2,"x":0.71,"y":1.15},{"k":2,"x":1.10,"y":1.05},{"k":2,"x":1.50,"y":1.13},{"k":2,"x":1.90,"y":1.16},
      {"k":2,"x":-2.20,"y":1.21},{"k":2,"x":-1.80,"y":1.28},{"k":2,"x":-1.40,"y":1.22},{"k":2,"x":-1.01,"y":1.27},{"k":2,"x":-0.60,"y":1.19},{"k":2,"x":-0.20,"y":1.24},{"k":2,"x":0.22,"y":1.27},{"k":2,"x":0.60,"y":1.19},{"k":2,"x":1.00,"y":1.29},{"k":2,"x":1.39,"y":1.22},{"k":2,"x":1.78,"y":1.31},{"k":2,"x":2.18,"y":1.20},
      {"k":2,"x":-1.76,"y":1.44},{"k":2,"x":-1.33,"y":1.39},{"k":2,"x":-0.94,"y":1.46},{"k":2,"x":-0.54,"y":1.37},{"k":2,"x":-0.12,"y":1.44},{"k":2,"x":0.27,"y":1.34},{"k":2,"x":0.66,"y":1.40},{"k":2,"x":1.06,"y":1.46},{"k":2,"x":1.45,"y":1.35},{"k":2,"x":1.84,"y":1.42},
      {"k":2,"x":-1.64,"y":1.58},{"k":2,"x":-1.24,"y":1.53},{"k":2,"x":-0.83,"y":1.49},{"k":2,"x":-0.42,"y":1.60},{"k":2,"x":-0.01,"y":1.52},{"k":2,"x":0.38,"y":1.57},{"k":2,"x":0.77,"y":1.47},{"k":2,"x":1.17,"y":1.59},{"k":2,"x":1.58,"y":1.54},{"k":2,"x":1.92,"y":1.57},
      {"k":2,"x":-1.44,"y":1.63},{"k":2,"x":-1.04,"y":1.70},{"k":2,"x":-0.66,"y":1.75},{"k":2,"x":-0.27,"y":1.64},{"k":2,"x":0.12,"y":1.72},{"k":2,"x":0.52,"y":1.68},{"k":2,"x":0.91,"y":1.74},{"k":2,"x":1.29,"y":1.63},{"k":2,"x":1.62,"y":1.71},
      {"k":3,"x":-0.12,"y":0.55},{"k":3,"x":0.15,"y":0.54},
      {"k":3,"x":-0.45,"y":0.44},{"k":3,"x":-0.20,"y":0.49},{"k":3,"x":0.08,"y":0.46},{"k":3,"x":0.33,"y":0.50},{"k":3,"x":0.51,"y":0.42},
      {"k":3,"x":-0.72,"y":0.30},{"k":3,"x":-0.50,"y":0.37},{"k":3,"x":-0.28,"y":0.27},{"k":3,"x":-0.05,"y":0.35},{"k":3,"x":0.17,"y":0.29},{"k":3,"x":0.40,"y":0.38},{"k":3,"x":0.62,"y":0.32},{"k":3,"x":0.78,"y":0.26},
      {"k":3,"x":-0.88,"y":0.14},{"k":3,"x":-0.66,"y":0.21},{"k":3,"x":-0.44,"y":0.10},{"k":3,"x":-0.22,"y":0.18},{"k":3,"x":0.00,"y":0.12},{"k":3,"x":0.21,"y":0.22},{"k":3,"x":0.43,"y":0.09},{"k":3,"x":0.64,"y":0.17},{"k":3,"x":0.86,"y":0.11},
      {"k":3,"x":-0.93,"y":0.02},{"k":3,"x":-0.72,"y":-0.05},{"k":3,"x":-0.51,"y":0.06},{"k":3,"x":-0.31,"y":-0.02},{"k":3,"x":-0.10,"y":0.04},{"k":3,"x":0.11,"y":-0.06},{"k":3,"x":0.32,"y":0.01},{"k":3,"x":0.52,"y":-0.04},{"k":3,"x":0.73,"y":0.05},{"k":3,"x":0.92,"y":-0.01},
      {"k":3,"x":-0.85,"y":-0.12},{"k":3,"x":-0.63,"y":-0.19},{"k":3,"x":-0.42,"y":-0.10},{"k":3,"x":-0.20,"y":-0.22},{"k":3,"x":0.03,"y":-0.14},{"k":3,"x":0.25,"y":-0.09},{"k":3,"x":0.46,"y":-0.20},{"k":3,"x":0.67,"y":-0.13},{"k":3,"x":0.89,"y":-0.16},
      {"k":3,"x":-0.75,"y":-0.29},{"k":3,"x":-0.54,"y":-0.36},{"k":3,"x":-0.31,"y":-0.26},{"k":3,"x":-0.09,"y":-0.39},{"k":3,"x":0.14,"y":-0.31},{"k":3,"x":0.36,"y":-0.27},{"k":3,"x":0.58,"y":-0.37},{"k":3,"x":0.76,"y":-0.30},
      {"k":3,"x":-0.49,"y":-0.43},{"k":3,"x":-0.26,"y":-0.48},{"k":3,"x":0.02,"y":-0.45},{"k":3,"x":0.27,"y":-0.51},{"k":3,"x":0.47,"y":-0.44},
      {"k":3,"x":-0.10,"y":-0.55},{"k":3,"x":0.18,"y":-0.54},
      {"k":3,"x":0.00,"y":0.50},{"k":3,"x":-0.32,"y":0.46},{"k":3,"x":0.22,"y":0.43},{"k":3,"x":-0.58,"y":0.33},{"k":3,"x":-0.38,"y":0.30},{"k":3,"x":-0.16,"y":0.40},{"k":3,"x":0.05,"y":0.26},{"k":3,"x":0.28,"y":0.33},{"k":3,"x":0.52,"y":0.28},{"k":3,"x":0.68,"y":0.37},
      {"k":3,"x":-0.80,"y":0.22},{"k":3,"x":-0.55,"y":0.15},{"k":3,"x":-0.33,"y":0.20},{"k":3,"x":-0.11,"y":0.08},{"k":3,"x":0.11,"y":0.16},{"k":3,"x":0.32,"y":0.20},{"k":3,"x":0.54,"y":0.10},{"k":3,"x":0.76,"y":0.20},
      {"k":3,"x":-0.82,"y":-0.03},{"k":3,"x":-0.61,"y":0.02},{"k":3,"x":-0.41,"y":-0.04},{"k":3,"x":-0.20,"y":0.01},{"k":3,"x":0.01,"y":-0.02},{"k":3,"x":0.22,"y":0.03},{"k":3,"x":0.42,"y":-0.01},{"k":3,"x":0.63,"y":0.00},{"k":3,"x":0.83,"y":0.03},
      {"k":3,"x":-0.76,"y":-0.20},{"k":3,"x":-0.53,"y":-0.15},{"k":3,"x":-0.31,"y":-0.12},{"k":3,"x":-0.10,"y":-0.17},{"k":3,"x":0.14,"y":-0.20},{"k":3,"x":0.36,"y":-0.15},{"k":3,"x":0.57,"y":-0.22},{"k":3,"x":0.78,"y":-0.08},
      {"k":3,"x":-0.62,"y":-0.28},{"k":3,"x":-0.41,"y":-0.32},{"k":3,"x":-0.19,"y":-0.35},{"k":3,"x":0.05,"y":-0.27},{"k":3,"x":0.25,"y":-0.40},{"k":3,"x":0.47,"y":-0.31},{"k":3,"x":0.66,"y":-0.27},
      {"k":3,"x":-0.36,"y":-0.44},{"k":3,"x":-0.12,"y":-0.50},{"k":3,"x":0.12,"y":-0.47},{"k":3,"x":0.36,"y":-0.46},
      {"k":1,"x":1.80,"y":-0.70},{"k":1,"x":1.41,"y":-0.63},{"k":1,"x":1.10,"y":-0.72},{"k":1,"x":0.72,"y":-0.66},{"k":1,"x":0.30,"y":-0.73},{"k":1,"x":-0.15,"y":-0.71},{"k":1,"x":-0.48,"y":-0.64},{"k":1,"x":-0.86,"y":-0.69},{"k":1,"x":-1.25,"y":-0.61},{"k":1,"x":-1.62,"y":-0.72},
      {"k":1,"x":1.93,"y":-0.85},{"k":1,"x":1.62,"y":-0.77},{"k":1,"x":1.27,"y":-0.88},{"k":1,"x":0.85,"y":-0.80},{"k":1,"x":0.45,"y":-0.86},{"k":1,"x":0.08,"y":-0.78},{"k":1,"x":-0.37,"y":-0.83},{"k":1,"x":-0.74,"y":-0.89},{"k":1,"x":-1.15,"y":-0.76},{"k":1,"x":-1.58,"y":-0.84},{"k":1,"x":-1.90,"y":-0.79},
      {"k":1,"x":2.08,"y":-0.98},{"k":1,"x":1.70,"y":-0.92},{"k":1,"x":1.36,"y":-1.01},{"k":1,"x":0.97,"y":-0.95},{"k":1,"x":0.55,"y":-1.02},{"k":1,"x":0.18,"y":-0.91},{"k":1,"x":-0.22,"y":-0.99},{"k":1,"x":-0.63,"y":-0.93},{"k":1,"x":-1.02,"y":-1.03},{"k":1,"x":-1.44,"y":-0.96},{"k":1,"x":-1.81,"y":-0.90},{"k":1,"x":-2.07,"y":-1.00},
      {"k":1,"x":2.18,"y":-1.08},{"k":1,"x":1.84,"y":-1.15},{"k":1,"x":1.46,"y":-1.05},{"k":1,"x":1.05,"y":-1.12},{"k":1,"x":0.63,"y":-1.16},{"k":1,"x":0.27,"y":-1.06},{"k":1,"x":-0.11,"y":-1.13},{"k":1,"x":-0.52,"y":-1.04},{"k":1,"x":-0.90,"y":-1.11},{"k":1,"x":-1.31,"y":-1.17},{"k":1,"x":-1.69,"y":-1.07},{"k":1,"x":-2.16,"y":-1.12},
      {"k":1,"x":2.05,"y":-1.24},{"k":1,"x":1.59,"y":-1.19},{"k":1,"x":1.22,"y":-1.30},{"k":1,"x":0.81,"y":-1.22},{"k":1,"x":0.40,"y":-1.28},{"k":1,"x":-0.02,"y":-1.20},{"k":1,"x":-0.41,"y":-1.31},{"k":1,"x":-0.79,"y":-1.25},{"k":1,"x":-1.20,"y":-1.18},{"k":1,"x":-1.57,"y":-1.29},{"k":1,"x":-1.98,"y":-1.23},
      {"k":1,"x":1.98,"y":-1.40},{"k":1,"x":1.52,"y":-1.35},{"k":1,"x":1.14,"y":-1.44},{"k":1,"x":0.74,"y":-1.33},{"k":1,"x":0.33,"y":-1.42},{"k":1,"x":-0.08,"y":-1.37},{"k":1,"x":-0.46,"y":-1.45},{"k":1,"x":-0.85,"y":-1.34},{"k":1,"x":-1.26,"y":-1.41},{"k":1,"x":-1.65,"y":-1.38},{"k":1,"x":-2.02,"y":-1.43},
      {"k":1,"x":1.85,"y":-1.55},{"k":1,"x":1.44,"y":-1.49},{"k":1,"x":1.04,"y":-1.59},{"k":1,"x":0.63,"y":-1.52},{"k":1,"x":0.21,"y":-1.57},{"k":1,"x":-0.18,"y":-1.48},{"k":1,"x":-0.57,"y":-1.60},{"k":1,"x":-0.96,"y":-1.51},{"k":1,"x":-1.37,"y":-1.56},{"k":1,"x":-1.79,"y":-1.50},
      {"k":1,"x":1.65,"y":-1.68},{"k":1,"x":1.22,"y":-1.74},{"k":1,"x":0.86,"y":-1.64},{"k":1,"x":0.47,"y":-1.71},{"k":1,"x":0.08,"y":-1.66},{"k":1,"x":-0.31,"y":-1.73},{"k":1,"x":-0.72,"y":-1.62},{"k":1,"x":-1.10,"y":-1.70},{"k":1,"x":-1.48,"y":-1.65},
      {"k":1,"x":1.62,"y":-0.66},{"k":1,"x":1.25,"y":-0.70},{"k":1,"x":0.90,"y":-0.62},{"k":1,"x":0.50,"y":-0.68},{"k":1,"x":-0.35,"y":-0.65},{"k":1,"x":-0.68,"y":-0.74},{"k":1,"x":-1.05,"y":-0.66},{"k":1,"x":-1.45,"y":-0.70},
      {"k":1,"x":1.78,"y":-0.81},{"k":1,"x":1.45,"y":-0.86},{"k":1,"x":1.05,"y":-0.75},{"k":1,"x":0.65,"y":-0.84},{"k":1,"x":0.25,"y":-0.80},{"k":1,"x":-0.15,"y":-0.88},{"k":1,"x":-0.55,"y":-0.77},{"k":1,"x":-0.95,"y":-0.83},{"k":1,"x":-1.36,"y":-0.87},{"k":1,"x":-1.75,"y":-0.75},
      {"k":1,"x":1.90,"y":-0.96},{"k":1,"x":1.53,"y":-1.02},{"k":1,"x":1.15,"y":-0.90},{"k":1,"x":0.76,"y":-0.99},{"k":1,"x":0.37,"y":-0.94},{"k":1,"x":-0.03,"y":-1.01},{"k":1,"x":-0.43,"y":-0.97},{"k":1,"x":-0.83,"y":-0.90},{"k":1,"x":-1.24,"y":-0.99},{"k":1,"x":-1.63,"y":-1.02},{"k":1,"x":-1.95,"y":-0.94},
      {"k":1,"x":2.00,"y":-1.12},{"k":1,"x":1.65,"y":-1.06},{"k":1,"x":1.26,"y":-1.14},{"k":1,"x":0.84,"y":-1.08},{"k":1,"x":0.45,"y":-1.11},{"k":1,"x":0.08,"y":-1.16},{"k":1,"x":-0.31,"y":-1.09},{"k":1,"x":-0.71,"y":-1.15},{"k":1,"x":-1.10,"y":-1.05},{"k":1,"x":-1.50,"y":-1.13},{"k":1,"x":-1.90,"y":-1.16},
      {"k":1,"x":2.20,"y":-1.21},{"k":1,"x":1.80,"y":-1.28},{"k":1,"x":1.40,"y":-1.22},{"k":1,"x":1.01,"y":-1.27},{"k":1,"x":0.60,"y":-1.19},{"k":1,"x":0.20,"y":-1.24},{"k":1,"x":-0.22,"y":-1.27},{"k":1,"x":-0.60,"y":-1.19},{"k":1,"x":-1.00,"y":-1.29},{"k":1,"x":-1.39,"y":-1.22},{"k":1,"x":-1.78,"y":-1.31},{"k":1,"x":-2.18,"y":-1.20},
      {"k":1,"x":1.76,"y":-1.44},{"k":1,"x":1.33,"y":-1.39},{"k":1,"x":0.94,"y":-1.46},{"k":1,"x":0.54,"y":-1.37},{"k":1,"x":0.12,"y":-1.44},{"k":1,"x":-0.27,"y":-1.34},{"k":1,"x":-0.66,"y":-1.40},{"k":1,"x":-1.06,"y":-1.46},{"k":1,"x":-1.45,"y":-1.35},{"k":1,"x":-1.84,"y":-1.42},
      {"k":1,"x":1.64,"y":-1.58},{"k":1,"x":1.24,"y":-1.53},{"k":1,"x":0.83,"y":-1.49},{"k":1,"x":0.42,"y":-1.60},{"k":1,"x":0.01,"y":-1.52},{"k":1,"x":-0.38,"y":-1.57},{"k":1,"x":-0.77,"y":-1.47},{"k":1,"x":-1.17,"y":-1.59},{"k":1,"x":-1.58,"y":-1.54},{"k":1,"x":-1.92,"y":-1.57},
      {"k":1,"x":1.44,"y":-1.63},{"k":1,"x":1.04,"y":-1.70},{"k":1,"x":0.66,"y":-1.75},{"k":1,"x":0.27,"y":-1.64},{"k":1,"x":-0.12,"y":-1.72},{"k":1,"x":-0.52,"y":-1.68},{"k":1,"x":-0.91,"y":-1.74},{"k":1,"x":-1.29,"y":-1.63},{"k":1,"x":-1.62,"y":-1.71}
    ],
    "sdsxn": [
      {"k":2,"x":1.80,"y":0.75},{"k":2,"x":1.41,"y":0.68},{"k":2,"x":1.10,"y":0.77},{"k":2,"x":0.72,"y":0.71},{"k":2,"x":0.30,"y":0.78},{"k":2,"x":-0.15,"y":0.76},{"k":2,"x":-0.48,"y":0.69},{"k":2,"x":-0.86,"y":0.74},{"k":2,"x":-1.25,"y":0.66},{"k":2,"x":-1.62,"y":0.77},
      {"k":2,"x":1.93,"y":0.90},{"k":2,"x":1.62,"y":0.82},{"k":2,"x":1.27,"y":0.93},{"k":2,"x":0.85,"y":0.85},{"k":2,"x":0.45,"y":0.91},{"k":2,"x":0.08,"y":0.83},{"k":2,"x":-0.37,"y":0.88},{"k":2,"x":-0.74,"y":0.94},{"k":2,"x":-1.15,"y":0.81},{"k":2,"x":-1.58,"y":0.89},{"k":2,"x":-1.90,"y":0.84},
      {"k":2,"x":2.08,"y":1.03},{"k":2,"x":1.70,"y":0.97},{"k":2,"x":1.36,"y":1.06},{"k":2,"x":0.97,"y":1.00},{"k":2,"x":0.55,"y":1.07},{"k":2,"x":0.18,"y":0.96},{"k":2,"x":-0.22,"y":1.04},{"k":2,"x":-0.63,"y":0.98},{"k":2,"x":-1.02,"y":1.08},{"k":2,"x":-1.44,"y":1.01},{"k":2,"x":-1.81,"y":0.95},{"k":2,"x":-2.07,"y":1.05},
      {"k":2,"x":2.18,"y":1.13},{"k":2,"x":1.84,"y":1.20},{"k":2,"x":1.46,"y":1.10},{"k":2,"x":1.05,"y":1.17},{"k":2,"x":0.63,"y":1.21},{"k":2,"x":0.27,"y":1.11},{"k":2,"x":-0.11,"y":1.18},{"k":2,"x":-0.52,"y":1.09},{"k":2,"x":-0.90,"y":1.16},{"k":2,"x":-1.31,"y":1.22},{"k":2,"x":-1.69,"y":1.12},{"k":2,"x":-2.16,"y":1.17},
      {"k":2,"x":2.05,"y":1.29},{"k":2,"x":1.59,"y":1.24},{"k":2,"x":1.22,"y":1.35},{"k":2,"x":0.81,"y":1.27},{"k":2,"x":0.40,"y":1.33},{"k":2,"x":-0.02,"y":1.25},{"k":2,"x":-0.41,"y":1.36},{"k":2,"x":-0.79,"y":1.30},{"k":2,"x":-1.20,"y":1.23},{"k":2,"x":-1.57,"y":1.34},{"k":2,"x":-1.98,"y":1.28},
      {"k":2,"x":1.98,"y":1.45},{"k":2,"x":1.52,"y":1.40},{"k":2,"x":1.14,"y":1.49},{"k":2,"x":0.74,"y":1.38},{"k":2,"x":0.33,"y":1.47},{"k":2,"x":-0.08,"y":1.42},{"k":2,"x":-0.46,"y":1.50},{"k":2,"x":-0.85,"y":1.39},{"k":2,"x":-1.26,"y":1.46},{"k":2,"x":-1.65,"y":1.43},{"k":2,"x":-2.02,"y":1.48},
      {"k":2,"x":1.85,"y":1.60},{"k":2,"x":1.44,"y":1.54},{"k":2,"x":1.04,"y":1.64},{"k":2,"x":0.63,"y":1.57},{"k":2,"x":0.21,"y":1.62},{"k":2,"x":-0.18,"y":1.53},{"k":2,"x":-0.57,"y":1.65},{"k":2,"x":-0.96,"y":1.56},{"k":2,"x":-1.37,"y":1.61},{"k":2,"x":-1.79,"y":1.55},
      {"k":2,"x":1.65,"y":1.73},{"k":2,"x":1.22,"y":1.79},{"k":2,"x":0.86,"y":1.69},{"k":2,"x":0.47,"y":1.76},{"k":2,"x":0.08,"y":1.71},{"k":2,"x":-0.31,"y":1.78},{"k":2,"x":-0.72,"y":1.67},{"k":2,"x":-1.10,"y":1.75},{"k":2,"x":-1.48,"y":1.70},
      {"k":2,"x":1.62,"y":0.71},{"k":2,"x":1.25,"y":0.75},{"k":2,"x":0.90,"y":0.67},{"k":2,"x":0.50,"y":0.73},{"k":2,"x":-0.35,"y":0.70},{"k":2,"x":-0.68,"y":0.79},{"k":2,"x":-1.05,"y":0.71},{"k":2,"x":-1.45,"y":0.75},
      {"k":2,"x":1.78,"y":0.86},{"k":2,"x":1.45,"y":0.91},{"k":2,"x":1.05,"y":0.80},{"k":2,"x":0.65,"y":0.89},{"k":2,"x":0.25,"y":0.85},{"k":2,"x":-0.15,"y":0.93},{"k":2,"x":-0.55,"y":0.82},{"k":2,"x":-0.95,"y":0.88},{"k":2,"x":-1.36,"y":0.92},{"k":2,"x":-1.75,"y":0.80},
      {"k":2,"x":1.90,"y":1.01},{"k":2,"x":1.53,"y":1.07},{"k":2,"x":1.15,"y":0.95},{"k":2,"x":0.76,"y":1.04},{"k":2,"x":0.37,"y":0.99},{"k":2,"x":-0.03,"y":1.06},{"k":2,"x":-0.43,"y":1.02},{"k":2,"x":-0.83,"y":0.95},{"k":2,"x":-1.24,"y":1.04},{"k":2,"x":-1.63,"y":1.07},{"k":2,"x":-1.95,"y":0.99},
      {"k":2,"x":2.00,"y":1.17},{"k":2,"x":1.65,"y":1.11},{"k":2,"x":1.26,"y":1.19},{"k":2,"x":0.84,"y":1.13},{"k":2,"x":0.45,"y":1.16},{"k":2,"x":0.08,"y":1.21},{"k":2,"x":-0.31,"y":1.14},{"k":2,"x":-0.71,"y":1.20},{"k":2,"x":-1.10,"y":1.10},{"k":2,"x":-1.50,"y":1.18},{"k":2,"x":-1.90,"y":1.21},
      {"k":2,"x":2.20,"y":1.26},{"k":2,"x":1.80,"y":1.33},{"k":2,"x":1.40,"y":1.27},{"k":2,"x":1.01,"y":1.32},{"k":2,"x":0.60,"y":1.24},{"k":2,"x":0.20,"y":1.29},{"k":2,"x":-0.22,"y":1.32},{"k":2,"x":-0.60,"y":1.24},{"k":2,"x":-1.00,"y":1.34},{"k":2,"x":-1.39,"y":1.27},{"k":2,"x":-1.78,"y":1.36},{"k":2,"x":-2.18,"y":1.25},
      {"k":2,"x":1.76,"y":1.49},{"k":2,"x":1.33,"y":1.44},{"k":2,"x":0.94,"y":1.51},{"k":2,"x":0.54,"y":1.42},{"k":2,"x":0.12,"y":1.49},{"k":2,"x":-0.27,"y":1.39},{"k":2,"x":-0.66,"y":1.45},{"k":2,"x":-1.06,"y":1.51},{"k":2,"x":-1.45,"y":1.40},{"k":2,"x":-1.84,"y":1.47},
      {"k":2,"x":1.64,"y":1.63},{"k":2,"x":1.24,"y":1.58},{"k":2,"x":0.83,"y":1.54},{"k":2,"x":0.42,"y":1.65},{"k":2,"x":0.01,"y":1.57},{"k":2,"x":-0.38,"y":1.62},{"k":2,"x":-0.77,"y":1.52},{"k":2,"x":-1.17,"y":1.64},{"k":2,"x":-1.58,"y":1.59},{"k":2,"x":-1.92,"y":1.62},
      {"k":2,"x":1.44,"y":1.68},{"k":2,"x":1.04,"y":1.75},{"k":2,"x":0.66,"y":1.80},{"k":2,"x":0.27,"y":1.69},{"k":2,"x":-0.12,"y":1.77},{"k":2,"x":-0.52,"y":1.73},{"k":2,"x":-0.91,"y":1.79},{"k":2,"x":-1.29,"y":1.68},{"k":2,"x":-1.62,"y":1.76},
      {"k":3,"x":0.10,"y":0.55},{"k":3,"x":-0.18,"y":0.54},
      {"k":3,"x":0.49,"y":0.43},{"k":3,"x":0.26,"y":0.48},{"k":3,"x":-0.02,"y":0.45},{"k":3,"x":-0.27,"y":0.51},{"k":3,"x":-0.47,"y":0.44},
      {"k":3,"x":0.75,"y":0.29},{"k":3,"x":0.54,"y":0.36},{"k":3,"x":0.31,"y":0.26},{"k":3,"x":0.09,"y":0.39},{"k":3,"x":-0.14,"y":0.31},{"k":3,"x":-0.36,"y":0.27},{"k":3,"x":-0.58,"y":0.37},{"k":3,"x":-0.76,"y":0.30},
      {"k":3,"x":0.85,"y":0.12},{"k":3,"x":0.63,"y":0.19},{"k":3,"x":0.42,"y":0.10},{"k":3,"x":0.20,"y":0.22},{"k":3,"x":-0.03,"y":0.14},{"k":3,"x":-0.25,"y":0.09},{"k":3,"x":-0.46,"y":0.20},{"k":3,"x":-0.67,"y":0.13},{"k":3,"x":-0.89,"y":0.16},
      {"k":3,"x":0.93,"y":-0.02},{"k":3,"x":0.72,"y":0.05},{"k":3,"x":0.51,"y":-0.06},{"k":3,"x":0.31,"y":0.02},{"k":3,"x":0.10,"y":-0.04},{"k":3,"x":-0.11,"y":0.06},{"k":3,"x":-0.32,"y":-0.01},{"k":3,"x":-0.52,"y":0.04},{"k":3,"x":-0.73,"y":-0.05},{"k":3,"x":-0.92,"y":0.01},
      {"k":3,"x":0.88,"y":-0.14},{"k":3,"x":0.66,"y":-0.21},{"k":3,"x":0.44,"y":-0.10},{"k":3,"x":0.22,"y":-0.18},{"k":3,"x":0.00,"y":-0.12},{"k":3,"x":-0.21,"y":-0.22},{"k":3,"x":-0.43,"y":-0.09},{"k":3,"x":-0.64,"y":-0.17},{"k":3,"x":-0.86,"y":-0.11},
      {"k":3,"x":0.72,"y":-0.30},{"k":3,"x":0.50,"y":-0.37},{"k":3,"x":0.28,"y":-0.27},{"k":3,"x":0.05,"y":-0.35},{"k":3,"x":-0.17,"y":-0.29},{"k":3,"x":-0.40,"y":-0.38},{"k":3,"x":-0.62,"y":-0.32},{"k":3,"x":-0.78,"y":-0.26},
      {"k":3,"x":0.45,"y":-0.44},{"k":3,"x":0.20,"y":-0.49},{"k":3,"x":-0.08,"y":-0.46},{"k":3,"x":-0.33,"y":-0.50},{"k":3,"x":-0.51,"y":-0.42},
      {"k":3,"x":0.12,"y":-0.55},{"k":3,"x":-0.15,"y":-0.54},
      {"k":3,"x":0.00,"y":-0.50},{"k":3,"x":0.32,"y":-0.46},{"k":3,"x":-0.22,"y":-0.43},{"k":3,"x":0.58,"y":-0.33},{"k":3,"x":0.38,"y":-0.30},{"k":3,"x":0.16,"y":-0.40},{"k":3,"x":-0.05,"y":-0.26},{"k":3,"x":-0.28,"y":-0.33},{"k":3,"x":-0.52,"y":-0.28},{"k":3,"x":-0.68,"y":-0.37},
      {"k":3,"x":0.80,"y":-0.22},{"k":3,"x":0.55,"y":-0.15},{"k":3,"x":0.33,"y":-0.20},{"k":3,"x":0.11,"y":-0.08},{"k":3,"x":-0.11,"y":-0.16},{"k":3,"x":-0.32,"y":-0.20},{"k":3,"x":-0.54,"y":-0.10},{"k":3,"x":-0.76,"y":-0.20},
      {"k":3,"x":0.82,"y":0.03},{"k":3,"x":0.61,"y":-0.02},{"k":3,"x":0.41,"y":0.04},{"k":3,"x":0.20,"y":-0.01},{"k":3,"x":-0.01,"y":0.02},{"k":3,"x":-0.22,"y":-0.03},{"k":3,"x":-0.42,"y":0.01},{"k":3,"x":-0.63,"y":0.00},{"k":3,"x":-0.83,"y":-0.03},
      {"k":3,"x":0.76,"y":0.20},{"k":3,"x":0.53,"y":0.15},{"k":3,"x":0.31,"y":0.12},{"k":3,"x":0.10,"y":0.17},{"k":3,"x":-0.14,"y":0.20},{"k":3,"x":-0.36,"y":0.15},{"k":3,"x":-0.57,"y":0.22},{"k":3,"x":-0.78,"y":0.08},
      {"k":3,"x":0.62,"y":0.28},{"k":3,"x":0.41,"y":0.32},{"k":3,"x":0.19,"y":0.35},{"k":3,"x":-0.05,"y":0.27},{"k":3,"x":-0.25,"y":0.40},{"k":3,"x":-0.47,"y":0.31},{"k":3,"x":-0.66,"y":0.27},
      {"k":3,"x":0.36,"y":0.44},{"k":3,"x":0.12,"y":0.50},{"k":3,"x":-0.12,"y":0.47},{"k":3,"x":-0.36,"y":0.46},
      {"k":1,"x":-1.80,"y":-0.70},{"k":1,"x":-1.41,"y":-0.63},{"k":1,"x":-1.10,"y":-0.72},{"k":1,"x":-0.72,"y":-0.66},{"k":1,"x":-0.30,"y":-0.73},{"k":1,"x":0.15,"y":-0.71},{"k":1,"x":0.48,"y":-0.64},{"k":1,"x":0.86,"y":-0.69},{"k":1,"x":1.25,"y":-0.61},{"k":1,"x":1.62,"y":-0.72},
      {"k":1,"x":-1.93,"y":-0.85},{"k":1,"x":-1.62,"y":-0.77},{"k":1,"x":-1.27,"y":-0.88},{"k":1,"x":-0.85,"y":-0.80},{"k":1,"x":-0.45,"y":-0.86},{"k":1,"x":-0.08,"y":-0.78},{"k":1,"x":0.37,"y":-0.83},{"k":1,"x":0.74,"y":-0.89},{"k":1,"x":1.15,"y":-0.76},{"k":1,"x":1.58,"y":-0.84},{"k":1,"x":1.90,"y":-0.79},
      {"k":1,"x":-2.08,"y":-0.98},{"k":1,"x":-1.70,"y":-0.92},{"k":1,"x":-1.36,"y":-1.01},{"k":1,"x":-0.97,"y":-0.95},{"k":1,"x":-0.55,"y":-1.02},{"k":1,"x":-0.18,"y":-0.91},{"k":1,"x":0.22,"y":-0.99},{"k":1,"x":0.63,"y":-0.93},{"k":1,"x":1.02,"y":-1.03},{"k":1,"x":1.44,"y":-0.96},{"k":1,"x":1.81,"y":-0.90},{"k":1,"x":2.07,"y":-1.00},
      {"k":1,"x":-2.18,"y":-1.08},{"k":1,"x":-1.84,"y":-1.15},{"k":1,"x":-1.46,"y":-1.05},{"k":1,"x":-1.05,"y":-1.12},{"k":1,"x":-0.63,"y":-1.16},{"k":1,"x":-0.27,"y":-1.06},{"k":1,"x":0.11,"y":-1.13},{"k":1,"x":0.52,"y":-1.04},{"k":1,"x":0.90,"y":-1.11},{"k":1,"x":1.31,"y":-1.17},{"k":1,"x":1.69,"y":-1.07},{"k":1,"x":2.16,"y":-1.12},
      {"k":1,"x":-2.05,"y":-1.24},{"k":1,"x":-1.59,"y":-1.19},{"k":1,"x":-1.22,"y":-1.30},{"k":1,"x":-0.81,"y":-1.22},{"k":1,"x":-0.40,"y":-1.28},{"k":1,"x":0.02,"y":-1.20},{"k":1,"x":0.41,"y":-1.31},{"k":1,"x":0.79,"y":-1.25},{"k":1,"x":1.20,"y":-1.18},{"k":1,"x":1.57,"y":-1.29},{"k":1,"x":1.98,"y":-1.23},
      {"k":1,"x":-1.98,"y":-1.40},{"k":1,"x":-1.52,"y":-1.35},{"k":1,"x":-1.14,"y":-1.44},{"k":1,"x":-0.74,"y":-1.33},{"k":1,"x":-0.33,"y":-1.42},{"k":1,"x":0.08,"y":-1.37},{"k":1,"x":0.46,"y":-1.45},{"k":1,"x":0.85,"y":-1.34},{"k":1,"x":1.26,"y":-1.41},{"k":1,"x":1.65,"y":-1.38},{"k":1,"x":2.02,"y":-1.43},
      {"k":1,"x":-1.85,"y":-1.55},{"k":1,"x":-1.44,"y":-1.49},{"k":1,"x":-1.04,"y":-1.59},{"k":1,"x":-0.63,"y":-1.52},{"k":1,"x":-0.21,"y":-1.57},{"k":1,"x":0.18,"y":-1.48},{"k":1,"x":0.57,"y":-1.60},{"k":1,"x":0.96,"y":-1.51},{"k":1,"x":1.37,"y":-1.56},{"k":1,"x":1.79,"y":-1.50},
      {"k":1,"x":-1.65,"y":-1.68},{"k":1,"x":-1.22,"y":-1.74},{"k":1,"x":-0.86,"y":-1.64},{"k":1,"x":-0.47,"y":-1.71},{"k":1,"x":-0.08,"y":-1.66},{"k":1,"x":0.31,"y":-1.73},{"k":1,"x":0.72,"y":-1.62},{"k":1,"x":1.10,"y":-1.70},{"k":1,"x":1.48,"y":-1.65},
      {"k":1,"x":-1.62,"y":-0.66},{"k":1,"x":-1.25,"y":-0.70},{"k":1,"x":-0.90,"y":-0.62},{"k":1,"x":-0.50,"y":-0.68},{"k":1,"x":0.35,"y":-0.65},{"k":1,"x":0.68,"y":-0.74},{"k":1,"x":1.05,"y":-0.66},{"k":1,"x":1.45,"y":-0.70},
      {"k":1,"x":-1.78,"y":-0.81},{"k":1,"x":-1.45,"y":-0.86},{"k":1,"x":-1.05,"y":-0.75},{"k":1,"x":-0.65,"y":-0.84},{"k":1,"x":-0.25,"y":-0.80},{"k":1,"x":0.15,"y":-0.88},{"k":1,"x":0.55,"y":-0.77},{"k":1,"x":0.95,"y":-0.83},{"k":1,"x":1.36,"y":-0.87},{"k":1,"x":1.75,"y":-0.75},
      {"k":1,"x":-1.90,"y":-0.96},{"k":1,"x":-1.53,"y":-1.02},{"k":1,"x":-1.15,"y":-0.90},{"k":1,"x":-0.76,"y":-0.99},{"k":1,"x":-0.37,"y":-0.94},{"k":1,"x":0.03,"y":-1.01},{"k":1,"x":0.43,"y":-0.97},{"k":1,"x":0.83,"y":-0.90},{"k":1,"x":1.24,"y":-0.99},{"k":1,"x":1.63,"y":-1.02},{"k":1,"x":1.95,"y":-0.94},
      {"k":1,"x":-2.00,"y":-1.12},{"k":1,"x":-1.65,"y":-1.06},{"k":1,"x":-1.26,"y":-1.14},{"k":1,"x":-0.84,"y":-1.08},{"k":1,"x":-0.45,"y":-1.11},{"k":1,"x":-0.08,"y":-1.16},{"k":1,"x":0.31,"y":-1.09},{"k":1,"x":0.71,"y":-1.15},{"k":1,"x":1.10,"y":-1.05},{"k":1,"x":1.50,"y":-1.13},{"k":1,"x":1.90,"y":-1.16},
      {"k":1,"x":-2.20,"y":-1.21},{"k":1,"x":-1.80,"y":-1.28},{"k":1,"x":-1.40,"y":-1.22},{"k":1,"x":-1.01,"y":-1.27},{"k":1,"x":-0.60,"y":-1.19},{"k":1,"x":-0.20,"y":-1.24},{"k":1,"x":0.22,"y":-1.27},{"k":1,"x":0.60,"y":-1.19},{"k":1,"x":1.00,"y":-1.29},{"k":1,"x":1.39,"y":-1.22},{"k":1,"x":1.78,"y":-1.31},{"k":1,"x":2.18,"y":-1.20},
      {"k":1,"x":-1.76,"y":-1.44},{"k":1,"x":-1.33,"y":-1.39},{"k":1,"x":-0.94,"y":-1.46},{"k":1,"x":-0.54,"y":-1.37},{"k":1,"x":-0.12,"y":-1.44},{"k":1,"x":0.27,"y":-1.34},{"k":1,"x":0.66,"y":-1.40},{"k":1,"x":1.06,"y":-1.46},{"k":1,"x":1.45,"y":-1.35},{"k":1,"x":1.84,"y":-1.42},
      {"k":1,"x":-1.64,"y":-1.58},{"k":1,"x":-1.24,"y":-1.53},{"k":1,"x":-0.83,"y":-1.49},{"k":1,"x":-0.42,"y":-1.60},{"k":1,"x":-0.01,"y":-1.52},{"k":1,"x":0.38,"y":-1.57},{"k":1,"x":0.77,"y":-1.47},{"k":1,"x":1.17,"y":-1.59},{"k":1,"x":1.58,"y":-1.54},{"k":1,"x":1.92,"y":-1.57},
      {"k":1,"x":-1.44,"y":-1.63},{"k":1,"x":-1.04,"y":-1.70},{"k":1,"x":-0.66,"y":-1.75},{"k":1,"x":-0.27,"y":-1.64},{"k":1,"x":0.12,"y":-1.72},{"k":1,"x":0.52,"y":-1.68},{"k":1,"x":0.91,"y":-1.74},{"k":1,"x":1.29,"y":-1.63},{"k":1,"x":1.62,"y":-1.71},
      {"k":1,"x":-0.90,"y":-1.80},{"k":1,"x":0.40,"y":-1.79},{"k":1,"x":1.00,"y":-1.78},
      {"k":4,"x":2.20,"y":0.64},{"k":4,"x":2.27,"y":0.46},{"k":4,"x":1.30,"y":0.34},{"k":4,"x":1.38,"y":0.31},{"k":4,"x":1.61,"y":0.30},{"k":4,"x":1.92,"y":0.42},
      {"k":4,"x":1.81,"y":0.00},{"k":4,"x":2.05,"y":0.07},{"k":4,"x":2.09,"y":-0.07},{"k":4,"x":1.31,"y":-0.31},{"k":4,"x":1.52,"y":-0.28},{"k":4,"x":0.90,"y":0.67},
      {"k":4,"x":1.08,"y":0.70},{"k":4,"x":1.69,"y":0.79},{"k":4,"x":1.16,"y":0.62}
    ]
  },
  "concat": [
    {
      "width": 377, "height": 340,
      "title": {"text": "Veriseti: sdsr", "offset": -28.6},
      "layer": [
        {
          "data": {"values": [{}]},
          "mark": {"type": "rect", "filled": false, "color": "#a7b3c1", "strokeDash": [2, 2], "strokeWidth": 1.2, "clip": false},
          "encoding": {
            "x": {"datum": -3.052, "type": "quantitative", "scale": {"domain": [-2.32, 2.28], "nice": false, "zero": false}, "axis": {"title": "p1", "values": [-2, -1, 0, 1, 2]}},
            "x2": {"datum": 2.853},
            "y": {"datum": 2.823, "type": "quantitative", "scale": {"domain": [-2.21, 2.2], "nice": false, "zero": false}, "axis": {"title": "p2", "values": [-2, -1, 0, 1, 2]}},
            "y2": {"datum": -3.338}
          }
        },
        {
          "data": {"name": "sdsr"},
          "mark": {"type": "circle"},
          "encoding": {
            "x": {"field": "x", "type": "quantitative", "scale": {"domain": [-2.32, 2.28], "nice": false, "zero": false}, "axis": {"title": "p1", "values": [-2, -1, 0, 1, 2]}},
            "y": {"field": "y", "type": "quantitative", "scale": {"domain": [-2.21, 2.2], "nice": false, "zero": false}, "axis": {"title": "p2", "values": [-2, -1, 0, 1, 2]}},
            "color": {"field": "k", "type": "nominal", "scale": {"domain": [1, 2, 3, 4, 5], "range": ["#262626", "#e8283c", "#2ec42e", "#2626c8", "#3ee6f0"]}, "legend": null}
          }
        }
      ]
    },
    {
      "width": 377, "height": 340,
      "title": {"text": "Veriseti: sdsrn", "offset": -28.6},
      "layer": [
        {
          "data": {"values": [{}]},
          "mark": {"type": "rect", "filled": false, "color": "#a7b3c1", "strokeDash": [2, 2], "strokeWidth": 1.2, "clip": false},
          "encoding": {
            "x": {"datum": -3.047, "type": "quantitative", "scale": {"domain": [-2.29, 2.31], "nice": false, "zero": false}, "axis": {"title": "p1", "values": [-2, -1, 0, 1, 2]}},
            "x2": {"datum": 2.786},
            "y": {"datum": 2.823, "type": "quantitative", "scale": {"domain": [-2.21, 2.2], "nice": false, "zero": false}, "axis": {"title": "p2", "values": [-2, -1, 0, 1, 2]}},
            "y2": {"datum": -3.338}
          }
        },
        {
          "data": {"name": "sdsrn"},
          "mark": {"type": "circle"},
          "encoding": {
            "x": {"field": "x", "type": "quantitative", "scale": {"domain": [-2.29, 2.31], "nice": false, "zero": false}, "axis": {"title": "p1", "values": [-2, -1, 0, 1, 2]}},
            "y": {"field": "y", "type": "quantitative", "scale": {"domain": [-2.21, 2.2], "nice": false, "zero": false}, "axis": {"title": "p2", "values": [-2, -1, 0, 1, 2]}},
            "color": {"field": "k", "type": "nominal", "scale": {"domain": [1, 2, 3, 4, 5], "range": ["#262626", "#e8283c", "#2ec42e", "#2626c8", "#3ee6f0"]}, "legend": null}
          }
        }
      ]
    },
    {
      "width": 377, "height": 338,
      "title": {"text": "Veriseti: sdsx", "offset": -29.6},
      "layer": [
        {
          "data": {"values": [{}]},
          "mark": {"type": "rect", "filled": false, "color": "#a7b3c1", "strokeDash": [2, 2], "strokeWidth": 1.2, "clip": false},
          "encoding": {
            "x": {"datum": -3.816, "type": "quantitative", "scale": {"domain": [-2.89, 2.93], "nice": false, "zero": false}, "axis": {"title": "p1", "values": [-2, -1, 0, 1, 2]}},
            "x2": {"datum": 3.655},
            "y": {"datum": 3.162, "type": "quantitative", "scale": {"domain": [-2.44, 2.44], "nice": false, "zero": false}, "axis": {"title": "p2", "values": [-2, -1, 0, 1, 2]}},
            "y2": {"datum": -3.696}
          }
        },
        {
          "data": {"name": "sdsx"},
          "mark": {"type": "circle"},
          "encoding": {
            "x": {"field": "x", "type": "quantitative", "scale": {"domain": [-2.89, 2.93], "nice": false, "zero": false}, "axis": {"title": "p1", "values": [-2, -1, 0, 1, 2]}},
            "y": {"field": "y", "type": "quantitative", "scale": {"domain": [-2.44, 2.44], "nice": false, "zero": false}, "axis": {"title": "p2", "values": [-2, -1, 0, 1, 2]}},
            "color": {"field": "k", "type": "nominal", "scale": {"domain": [1, 2, 3, 4, 5], "range": ["#262626", "#e8283c", "#2ec42e", "#2626c8", "#3ee6f0"]}, "legend": null}
          }
        }
      ]
    },
    {
      "width": 373, "height": 335,
      "title": {"text": "Veriseti: sdsxn", "offset": -29.6},
      "layer": [
        {
          "data": {"values": [{}]},
          "mark": {"type": "rect", "filled": false, "color": "#a7b3c1", "strokeDash": [2, 2], "strokeWidth": 1.2, "clip": false},
          "encoding": {
            "x": {"datum": -3.829, "type": "quantitative", "scale": {"domain": [-2.86, 2.97], "nice": false, "zero": false}, "axis": {"title": "p1", "values": [-2, -1, 0, 1, 2]}},
            "x2": {"datum": 3.642},
            "y": {"datum": 3.243, "type": "quantitative", "scale": {"domain": [-2.48, 2.5], "nice": false, "zero": false}, "axis": {"title": "p2", "values": [-2, -1, 0, 1, 2]}},
            "y2": {"datum": -3.818}
          }
        },
        {
          "data": {"name": "sdsxn"},
          "mark": {"type": "circle"},
          "encoding": {
            "x": {"field": "x", "type": "quantitative", "scale": {"domain": [-2.86, 2.97], "nice": false, "zero": false}, "axis": {"title": "p1", "values": [-2, -1, 0, 1, 2]}},
            "y": {"field": "y", "type": "quantitative", "scale": {"domain": [-2.48, 2.5], "nice": false, "zero": false}, "axis": {"title": "p2", "values": [-2, -1, 0, 1, 2]}},
            "color": {"field": "k", "type": "nominal", "scale": {"domain": [1, 2, 3, 4, 5], "range": ["#262626", "#e8283c", "#2ec42e", "#2626c8", "#3ee6f0"]}, "legend": null}
          }
        }
      ]
    }
  ]
}
